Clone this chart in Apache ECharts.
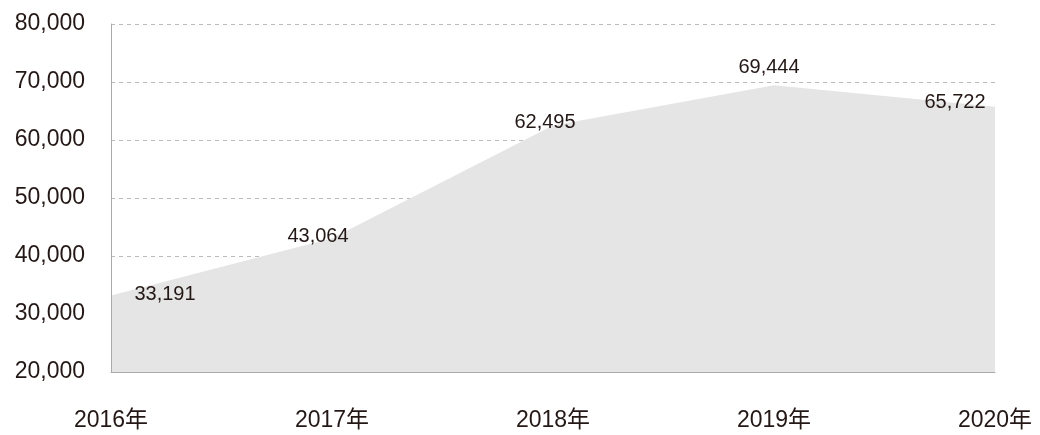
<!DOCTYPE html>
<html>
<head>
<meta charset="utf-8">
<script src="https://cdn.jsdelivr.net/npm/echarts@6/dist/echarts.min.js"></script>
<style>
html, body { margin: 0; padding: 0; background: #fff; }
#chart { width: 1040px; height: 435px; }
</style>
</head>
<body>
<div id="chart"></div>
<script>
// 年度
var years = ['2016年', '2017年', '2018年', '2019年', '2020年'];
// 値
var values = [33191, 43064, 62495, 69444, 65722];
// 縦軸
var yMin = 20000;
var yMax = 80000;
var yStep = 10000;

// ラベル位置の調整（点からのずれ）
var labelShift = [[54, -1], [-14, -2], [-8, -3], [-5, -18], [-40, -4]];

var textColor = '#231815';
var fontFamily = '"Liberation Sans", Arial, "Noto Sans CJK JP", sans-serif';

var chart = echarts.init(document.getElementById('chart'));

var seriesData = values.map(function (v, i) {
	return {
		value: v,
		label: { offset: labelShift[i] }
	};
});

function fmt(v) {
	return Number(v).toLocaleString('en-US');
}

chart.setOption({
	animation: false,
	grid: {
		left: 111,
		right: 45,
		top: 24,
		bottom: 63
	},
	xAxis: {
		type: 'category',
		data: years,
		boundaryGap: false,
		z: 10,
		axisLine: { show: true, lineStyle: { color: '#aaaaaa', width: 1 } },
		axisTick: { show: false },
		axisLabel: {
			color: textColor,
			fontSize: 23,
			fontFamily: fontFamily,
			margin: 37
		},
		splitLine: { show: false }
	},
	yAxis: [{
		// 軸線とラベル（面より上）
		type: 'value',
		min: yMin,
		max: yMax,
		interval: yStep,
		z: 10,
		axisLine: { show: true, lineStyle: { color: '#aaaaaa', width: 1 } },
		axisTick: { show: false },
		axisLabel: {
			color: textColor,
			fontSize: 23,
			fontFamily: fontFamily,
			margin: 26,
			formatter: fmt
		},
		splitLine: { show: false }
	}, {
		// 破線のグリッド（面より下）
		type: 'value',
		min: yMin,
		max: yMax,
		interval: yStep,
		position: 'left',
		z: 0,
		axisLine: { show: false },
		axisTick: { show: false },
		axisLabel: { show: false },
		splitLine: {
			show: true,
			lineStyle: { color: '#bbbbbb', type: [4, 4], width: 1 }
		}
	}],
	series: [{
		type: 'line',
		yAxisIndex: 0,
		data: seriesData,
		symbol: 'circle',
		symbolSize: 1,
		showSymbol: true,
		itemStyle: { color: 'rgba(0,0,0,0)' },
		lineStyle: { width: 0 },
		areaStyle: { color: '#e5e5e5', opacity: 1, origin: 'start' },
		label: {
			show: true,
			position: 'inside',
			color: textColor,
			fontSize: 20,
			fontFamily: fontFamily,
			formatter: function (p) { return fmt(p.value); }
		},
		z: 2
	}]
});
</script>
</body>
</html>
